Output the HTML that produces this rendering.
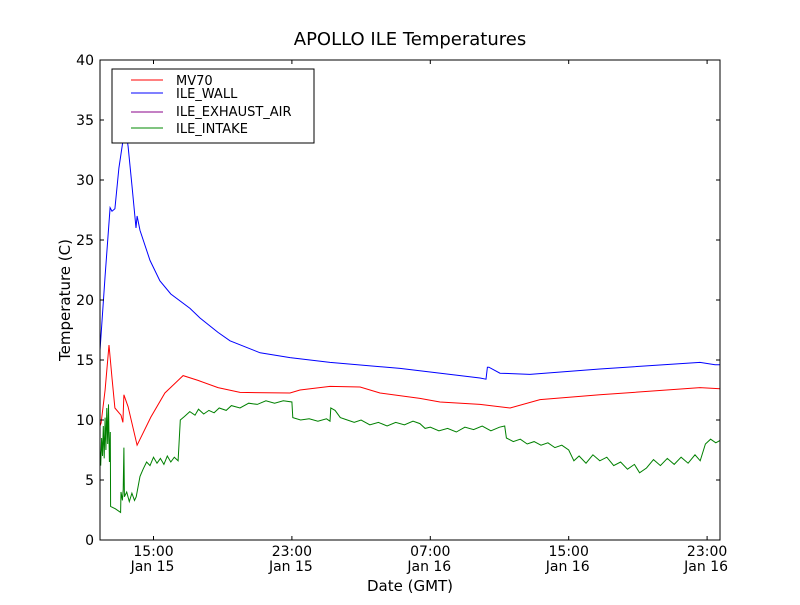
<!DOCTYPE html>
<html><head><meta charset="utf-8"><style>
body{margin:0;background:#fff;}
svg text{font-family:"DejaVu Sans","Liberation Sans",sans-serif;fill:#000;}
</style></head><body>
<svg id="chart" width="800" height="600">
<rect x="0" y="0" width="800" height="600" fill="#fff"/>
<text x="410" y="45" font-size="18" text-anchor="middle">APOLLO ILE Temperatures</text>
<g id="plot"></g>
<rect x="100" y="60" width="620" height="480" fill="none" stroke="#000" stroke-width="1"/>
<g id="ticks"></g>
<text x="410" y="591" font-size="15" text-anchor="middle">Date (GMT)</text>
<text transform="translate(70,300) rotate(-90)" font-size="15" text-anchor="middle">Temperature (C)</text>
<g>
<rect x="112" y="69" width="202" height="74" fill="#fff" stroke="#000" stroke-width="1"/>
<line x1="131" y1="80" x2="163" y2="80" stroke="#f00"/>
<text x="176" y="85" font-size="13">MV70</text>
<line x1="131" y1="93" x2="163" y2="93" stroke="#00f"/>
<text x="176" y="98" font-size="13">ILE_WALL</text>
<line x1="131" y1="112" x2="163" y2="112" stroke="#808"/>
<text x="176" y="116" font-size="13">ILE_EXHAUST_AIR</text>
<line x1="131" y1="128" x2="163" y2="128" stroke="#080"/>
<text x="176" y="133" font-size="13">ILE_INTAKE</text>
</g>
</svg>
<script>
const yTicks=[0,5,10,15,20,25,30,35,40];
const xTickHours=[15,23,31,39,47];
const xTickTime=["15:00","23:00","07:00","15:00","23:00"];
const xTickDay=["Jan 15","Jan 15","Jan 16","Jan 16","Jan 16"];
const mvHours=[11.91,11.97,12.2,12.43,12.6,12.77,13.12,13.23,13.29,13.53,14.05,14.85,15.66,16.71,17.57,18.73,20.0,22.89,23.47,25.2,26.94,28.09,30.4,31.56,33.87,35.61,37.34,40.8,46.59,47.75];
const mvTemps=[9.5,9.75,12.5,16.25,13.5,11.0,10.4,9.8,12.1,11.1,7.9,10.25,12.25,13.7,13.3,12.7,12.3,12.25,12.5,12.8,12.75,12.25,11.8,11.5,11.3,11.0,11.7,12.1,12.7,12.6];
const wallHours=[11.91,12.2,12.49,12.6,12.77,13.0,13.29,13.4,13.53,13.76,13.99,14.05,14.22,14.8,15.37,16.0,17.11,17.69,18.73,19.42,21.16,22.89,25.2,29.25,33.87,34.22,34.3,34.39,35.03,36.76,40.8,46.59,47.46,47.75];
const wallTemps=[15.8,22,27.7,27.4,27.6,31,33.8,34.2,32.8,29.5,26.0,27.0,25.8,23.3,21.6,20.5,19.3,18.5,17.3,16.6,15.6,15.2,14.8,14.3,13.5,13.4,14.4,14.4,13.9,13.8,14.25,14.8,14.6,14.6];
const intakeHours=[11.91,11.95,12.0,12.05,12.1,12.15,12.2,12.25,12.3,12.35,12.4,12.45,12.5,12.52,12.8,13.1,13.12,13.2,13.25,13.29,13.32,13.45,13.6,13.75,13.9,14.0,14.22,14.4,14.6,14.8,15.0,15.2,15.4,15.6,15.8,16.0,16.2,16.42,16.55,16.8,17.1,17.4,17.6,17.9,18.2,18.5,18.8,19.2,19.5,20.0,20.5,21.0,21.5,22.0,22.5,23.0,23.05,23.5,24.0,24.5,25.0,25.2,25.25,25.5,25.8,26.2,26.6,27.0,27.5,28.0,28.5,29.0,29.5,30.0,30.4,30.7,31.0,31.5,32.0,32.5,33.0,33.5,34.0,34.5,35.0,35.3,35.4,35.8,36.2,36.6,37.0,37.4,37.8,38.2,38.6,39.0,39.3,39.6,40.0,40.4,40.8,41.2,41.6,42.0,42.4,42.8,43.1,43.5,43.9,44.3,44.7,45.1,45.5,45.9,46.3,46.6,46.9,47.2,47.5,47.75];
const intakeTemps=[7.5,6.2,8.5,7.0,9.5,6.8,10.2,7.5,11.0,8.0,11.3,6.5,9.0,2.8,2.6,2.3,4.0,3.3,4.2,7.7,3.6,4.0,3.2,3.9,3.3,3.6,5.3,5.9,6.5,6.2,6.9,6.4,6.8,6.3,7.0,6.5,6.9,6.6,10.0,10.3,10.7,10.4,10.9,10.5,10.8,10.6,11.0,10.8,11.2,11.0,11.4,11.3,11.6,11.4,11.6,11.5,10.2,10.0,10.1,9.9,10.1,9.9,11.0,10.8,10.2,10.0,9.8,10.0,9.6,9.8,9.5,9.8,9.6,9.9,9.7,9.3,9.4,9.1,9.3,9.0,9.4,9.2,9.5,9.1,9.4,9.5,8.5,8.2,8.4,8.0,8.2,7.9,8.1,7.7,7.9,7.5,6.6,7.0,6.4,7.1,6.6,6.9,6.2,6.5,5.9,6.3,5.6,6.0,6.7,6.2,6.8,6.3,6.9,6.4,7.1,6.6,8.0,8.4,8.1,8.3];

const NS="http://www.w3.org/2000/svg";
function xs(h){return 153.5+(h-15)*17.3;}
function ys(t){return 540-t*12;}
const plot=document.getElementById('plot');
const ticks=document.getElementById('ticks');
function mk(tag,attrs,parent){const e=document.createElementNS(NS,tag);for(const k in attrs)e.setAttribute(k,attrs[k]);parent.appendChild(e);return e;}
function series(hs,ts,color,name){
  const d=hs.map((h,i)=>(i?'L':'M')+xs(h).toFixed(1)+','+ys(ts[i]).toFixed(1)).join(' ');
  const p=mk('path',{d:d,fill:'none',stroke:color,'stroke-width':'1'},plot);
  
  
}
series(intakeHours,intakeTemps,'#008000','intake-line');
series(mvHours,mvTemps,'#ff0000','mv70-line');
series(wallHours,wallTemps,'#0000ff','wall-line');
yTicks.forEach(v=>{
  const y=ys(v);
  mk('line',{x1:100,y1:y,x2:104,y2:y,stroke:'#000'},ticks);
  mk('line',{x1:716,y1:y,x2:720,y2:y,stroke:'#000'},ticks);
  const t=mk('text',{x:94,y:y+5,'font-size':'14','text-anchor':'end'},ticks);
  t.textContent=v;
  
  
});
xTickHours.forEach((h,i)=>{
  const x=xs(h);
  mk('line',{x1:x,y1:540,x2:x,y2:536,stroke:'#000'},ticks);
  mk('line',{x1:x,y1:60,x2:x,y2:64,stroke:'#000'},ticks);
  const t=mk('text',{x:x,y:556,'font-size':'14','text-anchor':'middle'},ticks);
  t.textContent=xTickTime[i];
  
  
  const t2=mk('text',{x:x-1,y:571,'font-size':'14','text-anchor':'middle'},ticks);
  t2.textContent=xTickDay[i];
  
  
});
</script>
</body></html>
